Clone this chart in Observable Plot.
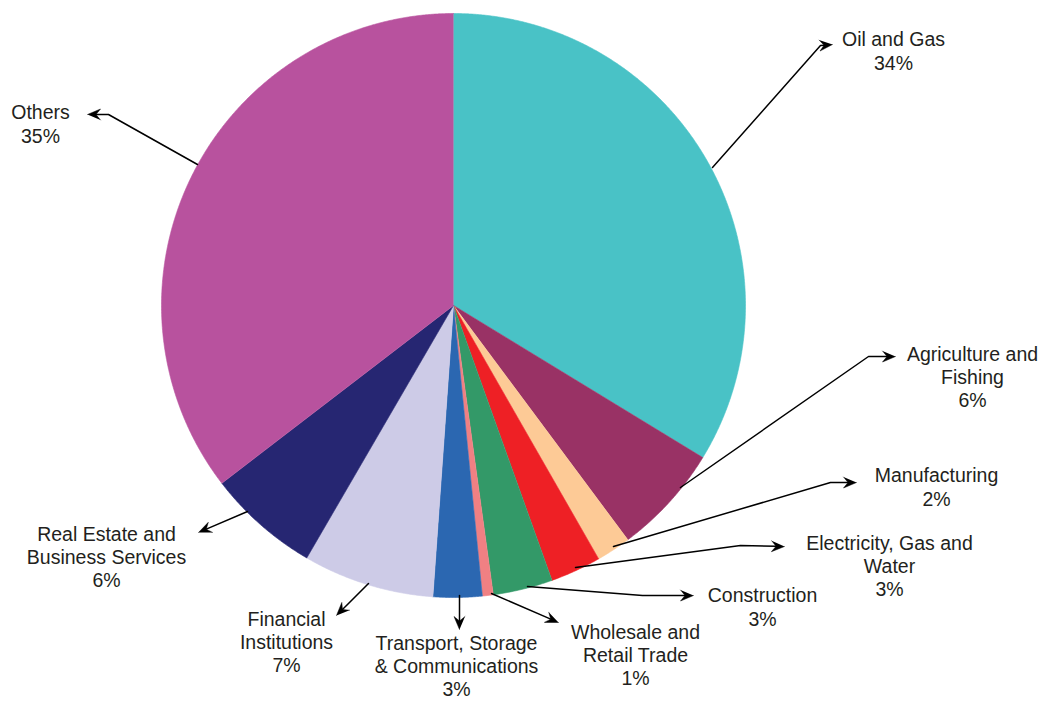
<!DOCTYPE html>
<html><head><meta charset="utf-8">
<script src="https://cdn.jsdelivr.net/npm/d3@7"></script>
<script src="https://cdn.jsdelivr.net/npm/@observablehq/plot@0.6"></script>
<style>body{margin:0;background:#fff}</style>
</head><body><div id="chart"></div>
<script>
// ---- data ----
const sectors = ["Oil and Gas", "Agriculture and Fishing", "Manufacturing", "Electricity, Gas and Water", "Construction", "Wholesale and Retail Trade", "Transport, Storage & Communications", "Financial Institutions", "Real Estate and Business Services", "Others"];
const shares = [33.7, 6.1, 1.9, 2.8, 3.3, 0.6, 2.7, 7.25, 6.2, 35.4];
const shareLabels = ["34%", "6%", "2%", "3%", "3%", "1%", "3%", "7%", "6%", "35%"];
const labelLines = [
  ["Oil and Gas"], ["Agriculture and", "Fishing"], ["Manufacturing"], ["Electricity, Gas and", "Water"],
  ["Construction"], ["Wholesale and", "Retail Trade"], ["Transport, Storage", "& Communications"],
  ["Financial", "Institutions"], ["Real Estate and", "Business Services"], ["Others"]
];
const colors = ["#49c2c6", "#993265", "#fdca96", "#ee2025", "#339968", "#f08083", "#2b67b1", "#cdcbe7", "#262672", "#b8529e"];

// ---- layout (pixels) ----
const W = 1048, H = 702;
const center = [453, 305], radius = 292;
const labelCenters = [[893, 50], [972, 376], [936, 486], [889, 565], [762, 606], [635, 654], [456, 665], [286, 641], [106, 556], [40, 123]];
const leaderPaths = [
  [[712, 167], [820, 45], [832, 44]],
  [[680, 487], [868, 356], [895, 356]],
  [[613, 546], [830, 482], [856, 482]],
  [[575, 567], [740, 545], [784, 546]],
  [[527, 586], [642, 595], [693, 595]],
  [[491, 593], [558, 622]],
  [[459, 595], [459, 629]],
  [[368, 583], [336, 615]],
  [[247, 511], [198, 532]],
  [[197, 164], [108, 114], [87, 114]]
];

// ---- build slices ----
const pie = d3.pie().sort(null).value(d => d.v)(shares.map((v, i) => ({v, name: sectors[i]})));
const slicePts = [];
pie.forEach(a => {
  const name = a.data.name;
  slicePts.push({name, x: center[0], y: center[1]});
  const n = Math.max(4, Math.ceil((a.endAngle - a.startAngle) / 0.005));
  for (let k = 0; k <= n; k++) {
    const t = a.startAngle + (a.endAngle - a.startAngle) * k / n;
    slicePts.push({name, x: center[0] + radius * Math.sin(t), y: center[1] - radius * Math.cos(t)});
  }
});

// ---- leaders & arrowheads ----
const lineRows = [], headRows = [];
const L = 13, Wd = 5.5;
leaderPaths.forEach((p, i) => {
  const tip = p[p.length - 1], prev = p[p.length - 2];
  const dx = tip[0] - prev[0], dy = tip[1] - prev[1], len = Math.hypot(dx, dy);
  const ux = dx / len, uy = dy / len, nx = -uy, ny = ux;
  const notch = [tip[0] - 0.65 * L * ux, tip[1] - 0.65 * L * uy];
  p.slice(0, -1).forEach(q => lineRows.push({id: i, x: q[0], y: q[1]}));
  lineRows.push({id: i, x: notch[0], y: notch[1]});
  const base = [tip[0] - L * ux, tip[1] - L * uy];
  [[tip[0], tip[1]], [base[0] + Wd * nx, base[1] + Wd * ny], notch, [base[0] - Wd * nx, base[1] - Wd * ny]]
    .forEach(q => headRows.push({id: i, x: q[0], y: q[1]}));
});

const textRows = sectors.map((s, i) => ({
  text: [...labelLines[i], shareLabels[i]].join("\n"),
  x: labelCenters[i][0], y: labelCenters[i][1]
}));

const chart = Plot.plot({
  width: W, height: H,
  margin: 0,
  x: {domain: [0, W], range: [0, W], axis: null},
  y: {domain: [0, H], range: [0, H], axis: null},
  color: {domain: sectors, range: colors},
  style: {fontFamily: "'Liberation Sans', Arial, sans-serif", background: "#fff"},
  marks: [
    Plot.line(slicePts, {x: "x", y: "y", z: "name", fill: "name", stroke: "name", strokeWidth: 0.6, curve: "linear"}),
    Plot.line(lineRows, {x: "x", y: "y", z: "id", stroke: "#000", strokeWidth: 1.5}),
    Plot.line(headRows, {x: "x", y: "y", z: "id", fill: "#000", stroke: "#000", strokeWidth: 0.5}),
    Plot.text(textRows, {x: "x", y: "y", text: "text", fontSize: 19.5, lineHeight: 1.2, fill: "#231f20", lineAnchor: "middle", textAnchor: "middle"})
  ]
});
document.getElementById("chart").appendChild(chart);
</script>
</body></html>
